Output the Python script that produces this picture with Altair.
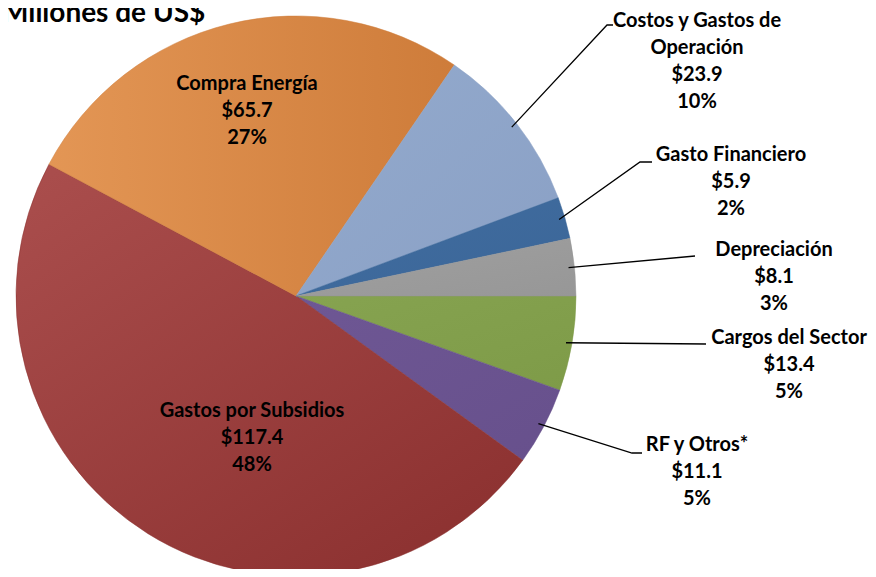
import math
import altair as alt
import pandas as pd

# ---------------- data ----------------
categories = ["Cargos del Sector", "RF y Otros*", "Gastos por Subsidios", "Compra Energía",
              "Costos y Gastos de Operación", "Gasto Financiero", "Depreciación"]
values = [13.4, 11.1, 117.4, 65.7, 23.9, 5.9, 8.1]
percents = ["5%", "5%", "48%", "27%", "10%", "2%", "3%"]
name_lines = [["Cargos del Sector"], ["RF y Otros*"], ["Gastos por Subsidios"], ["Compra Energía"],
              ["Costos y Gastos de", "Operación"], ["Gasto Financiero"], ["Depreciación"]]
title_text = "Millones de US$"

# ---------------- styling / layout ----------------
# (light, dark) shade per slice; a gentle gradient like the original's
shades = [("#86A350", "#7E9B48"), ("#6E5794", "#67508C"), ("#A94D4C", "#8B302F"),
          ("#E39655", "#CE7C3A"), ("#93AACD", "#8AA0C5"), ("#416DA0", "#3B6698"),
          ("#A0A0A0", "#979797")]
gradient_dir = [(0, 0, 1, 1), (0, 0, 1, 1), (0.1, 0, 0.9, 1),
                (0, 0.5, 1, 0.5), (0, 0, 1, 1), (0, 0, 1, 1), (0, 0, 1, 1)]
W, H = 860, 561
OFF = 8  # page margin
CX, CY, R = 296 - OFF, 296 - OFF, 280
LINE_H = 27
FONT = "Lato"
FS = 20
# first-line centre of each label block (page px)
label_anchor = {
    "Cargos del Sector": (789, 338),
    "RF y Otros*": (697, 445),
    "Gastos por Subsidios": (252, 411),
    "Compra Energía": (247, 84),
    "Costos y Gastos de Operación": (697, 21),
    "Gasto Financiero": (731, 155),
    "Depreciación": (774, 250),
}
# leader-line elbow and end (page px); labels inside slices have none
leader_path = {
    "Cargos del Sector": [(706, 344)],
    "RF y Otros*": [(632, 453), (642, 453)],
    "Costos y Gastos de Operación": [(607, 25), (613, 25)],
    "Gasto Financiero": [(640, 162), (652, 162)],
    "Depreciación": [(695, 256)],
}

# ---------------- tables ----------------
pie_df = pd.DataFrame({"category": categories, "value": values, "idx": list(range(len(values)))})

total = sum(values)
start_angle = math.pi / 2
text_rows, line_rows = [], []
cum = 0.0
for cat, v, pct, lines in zip(categories, values, percents, name_lines):
    mid = start_angle + (cum + v / 2) / total * 2 * math.pi
    cum += v
    ax, ay = label_anchor[cat]
    all_lines = lines + [f"${v:.1f}", pct]
    for k, t in enumerate(all_lines):
        text_rows.append({"t": t, "x": ax - OFF, "y": ay - OFF + k * LINE_H})
    if cat in leader_path:
        sx = CX + (R - 6) * math.sin(mid)
        sy = CY - (R - 6) * math.cos(mid)
        pts = [(sx, sy)] + [(px - OFF, py - OFF) for px, py in leader_path[cat]]
        for s, (px, py) in enumerate(pts):
            line_rows.append({"cat": cat, "s": s, "x": px, "y": py})

text_df = pd.DataFrame(text_rows)
line_df = pd.DataFrame(line_rows)
title_df = pd.DataFrame({"t": [title_text], "x": [-6], "y": [14]})

# ---------------- chart ----------------
theta_scale = alt.Scale(domain=[0, total], range=[start_angle, start_angle + 2 * math.pi])
base = alt.Chart(pie_df).transform_stack(
    stack="value", as_=["v0", "v1"], groupby=[], sort=[alt.SortField("idx", order="ascending")]
)
slices = []
for cat, (c1, c2), (gx1, gy1, gx2, gy2) in zip(categories, shades, gradient_dir):
    grad = alt.LinearGradient(
        gradient="linear", x1=gx1, y1=gy1, x2=gx2, y2=gy2,
        stops=[alt.GradientStop(color=c1, offset=0), alt.GradientStop(color=c2, offset=1)],
    )
    slices.append(
        base.transform_filter(alt.datum.category == cat)
        .mark_arc(radius=R, color=grad, stroke=c2, strokeWidth=0.5)
        .encode(
            theta=alt.Theta("v0:Q", scale=theta_scale),
            theta2="v1:Q",
            x=alt.value(CX),
            y=alt.value(CY),
        )
    )

leaders = alt.Chart(line_df).mark_line(color="black", strokeWidth=1.3).encode(
    x=alt.X("x:Q", scale=None, axis=None),
    y=alt.Y("y:Q", scale=None, axis=None),
    detail="cat:N",
    order="s:Q",
)

labels = alt.Chart(text_df).mark_text(
    font=FONT, fontWeight="bold", fontSize=FS, color="black", align="center", baseline="middle"
).encode(
    x=alt.X("x:Q", scale=None, axis=None),
    y=alt.Y("y:Q", scale=None, axis=None),
    text="t:N",
)

title = alt.Chart(title_df).mark_text(
    font=FONT, fontWeight="bold", fontSize=28, color="black", align="left", baseline="alphabetic"
).encode(
    x=alt.X("x:Q", scale=None, axis=None),
    y=alt.Y("y:Q", scale=None, axis=None),
    text="t:N",
)

chart = alt.layer(*slices, leaders, labels, title).properties(
    width=W, height=H, padding=0, background="white",
    autosize=alt.AutoSizeParams(type="none"),
).configure_view(stroke=None)

chart.save("out.html", embed_options={"renderer": "svg", "actions": False})
